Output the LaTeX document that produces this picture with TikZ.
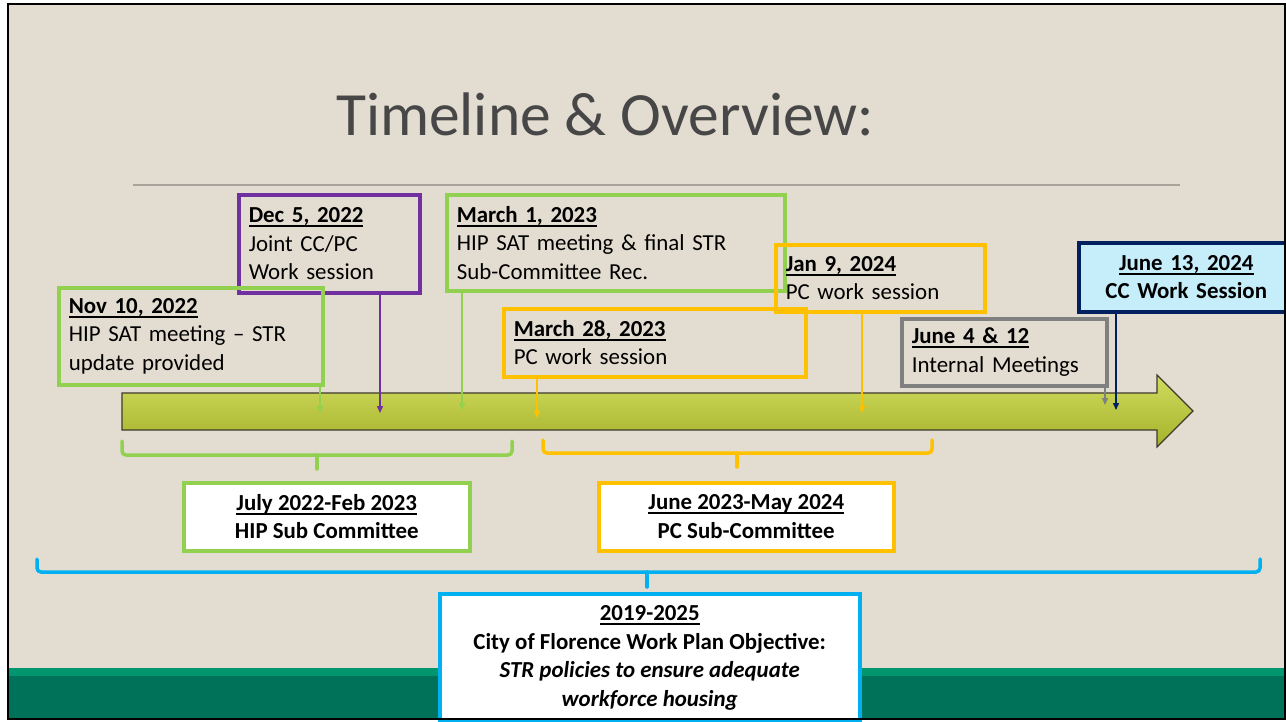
\documentclass[tikz,border=0pt]{standalone}
\usepackage{fontspec}
\setmainfont{Carlito}
\usetikzlibrary{arrows.meta}

\definecolor{slidebg}{HTML}{E3DDD1}
\definecolor{hipgreen}{HTML}{92D050}
\definecolor{jointpurple}{HTML}{7030A0}
\definecolor{pcorange}{HTML}{FFC000}
\definecolor{meetgray}{HTML}{808080}
\definecolor{ccnavy}{HTML}{002060}
\definecolor{ccfill}{HTML}{C5EDFA}
\definecolor{planblue}{HTML}{00B0F0}
\definecolor{bartop}{HTML}{D0DC5E}
\definecolor{barbottom}{HTML}{A5B22A}
\definecolor{footlight}{HTML}{02966F}
\definecolor{footdark}{HTML}{00725A}
\definecolor{titlegray}{HTML}{474747}
\definecolor{rulegray}{HTML}{A8A49C}

\newcommand\evfont{\fontsize{22.9}{28.5}\selectfont}
\newsavebox\datebox
\newcommand\dateul[1]{\sbox\datebox{#1}\rlap{\rule[-4.5pt]{\wd\datebox}{2pt}}\usebox\datebox}

\begin{document}
\begin{tikzpicture}[x=1pt, y=-1pt,
  evbox/.style={draw, line width=3.5pt, align=left, inner xsep=10pt, inner ysep=0pt,
    anchor=north west, font=\evfont},
  spanbox/.style={draw, fill=white, line width=3.5pt, align=center, inner sep=0pt,
    anchor=north west, font=\evfont\bfseries},
  pointer/.style={line width=1.4pt, -{Triangle[width=6pt,length=7pt]}},
  bracket/.style={line width=3.5pt, rounded corners=4pt, line cap=round}]

\useasboundingbox (0,0) rectangle (1286,721);

% slide background and footer
\fill[white] (0,0) rectangle (1286,721);
\fill[slidebg] (8,4) rectangle (1285,719);
\fill[footlight] (8,668) rectangle (1285,676);
\fill[footdark] (8,676) rectangle (1285,719);

% title
\node[anchor=base, text=titlegray, font=\fontsize{61.5}{70}\selectfont] (title) at (605,135)
    {Timeline \& Overview:};
\draw[rulegray, line width=1.5pt] (133,185) -- (1180,185);

% timeline bar
\shade[top color=bartop, bottom color=barbottom, draw=black!75!olive, line width=1.2pt]
  (122,393) -- (1157,393) -- (1157,375) -- (1193,411) -- (1157,447) -- (1157,430)
  -- (122,430) -- cycle;

% where the pointers hit the bar
\coordinate (tNov)   at (320,413);
\coordinate (tDec)   at (380,413);
\coordinate (tMarA)  at (462,410);
\coordinate (tMarB)  at (537,418);
\coordinate (tJan)   at (862,413);
\coordinate (tJuneA) at (1105,405);
\coordinate (tJuneB) at (1116,410);

% event boxes
\node[evbox, draw=jointpurple, text width=161pt, minimum height=98pt] (dec) at (237,193)
    {\dateul{\textbf{Dec 5, 2022}}\\Joint CC/PC\\Work session};
\node[evbox, draw=hipgreen, text width=244pt, minimum height=97pt] (nov) at (57,286)
    {\dateul{\textbf{Nov 10, 2022}}\\HIP SAT meeting -- STR\\update provided};
\node[evbox, draw=hipgreen, text width=318pt, minimum height=96pt] (marA) at (445,193)
    {\dateul{\textbf{March 1, 2023}}\\HIP SAT meeting \& final STR\\Sub-Committee Rec.};
\node[evbox, draw=pcorange, text width=189pt, minimum height=67pt] (jan) at (774,243)
    {\dateul{\textbf{Jan 9, 2024}}\\PC work session};
\node[evbox, draw=pcorange, text width=282pt, minimum height=68pt] (marB) at (502,307)
    {\dateul{\textbf{March 28, 2023}}\\PC work session};
\node[evbox, draw=meetgray, text width=185pt, minimum height=67pt] (juneA) at (900,317)
    {\dateul{\textbf{June 4 \& 12}}\\Internal Meetings};
\node[evbox, draw=ccnavy, fill=ccfill, align=center, text width=195pt, minimum height=69pt,
    font=\evfont\bfseries] (juneB) at (1077,241)
    {\dateul{June 13, 2024}\\CC Work Session};

% pointers
\draw[pointer, hipgreen]    (nov.south -| tNov)     -- (tNov);
\draw[pointer, jointpurple] (dec.south -| tDec)     -- (tDec);
\draw[pointer, hipgreen]    (marA.south -| tMarA)   -- (tMarA);
\draw[pointer, pcorange]    (marB.south -| tMarB)   -- (tMarB);
\draw[pointer, pcorange]    (jan.south -| tJan)     -- (tJan);
\draw[pointer, meetgray]    (juneA.south -| tJuneA) -- (tJuneA);
\draw[pointer, ccnavy]      (juneB.south -| tJuneB) -- (tJuneB);

% brackets under the bar
\draw[bracket, hipgreen] (122,441) |- (512,455) -- (512,441);
\draw[bracket, hipgreen] (317,455) -- (317,469);
\draw[bracket, pcorange] (543,440) |- (932,453) -- (932,440);
\draw[bracket, pcorange] (737,453) -- (737,467);
\draw[bracket, planblue] (37,559) |- (1260,572) -- (1260,559);
\draw[bracket, planblue] (647,572) -- (647,587);

% committee spans
\node[spanbox, draw=hipgreen, minimum width=286pt, minimum height=68pt] (hip) at (182,481)
    {\dateul{July 2022-Feb 2023}\\HIP Sub Committee};
\node[spanbox, draw=pcorange, minimum width=295pt, minimum height=68pt] (pc) at (597,481)
    {\dateul{June 2023-May 2024}\\PC Sub-Committee};
\node[spanbox, draw=planblue, minimum width=420pt, minimum height=128pt] (obj) at (438,592)
    {\dateul{2019-2025}\\City of Florence Work Plan Objective:\\
     \textit{STR policies to ensure adequate}\\\textit{workforce housing}};

% slide frame
\draw[black, line width=2.5pt] (8,4) rectangle (1285,719);
\end{tikzpicture}
\end{document}
